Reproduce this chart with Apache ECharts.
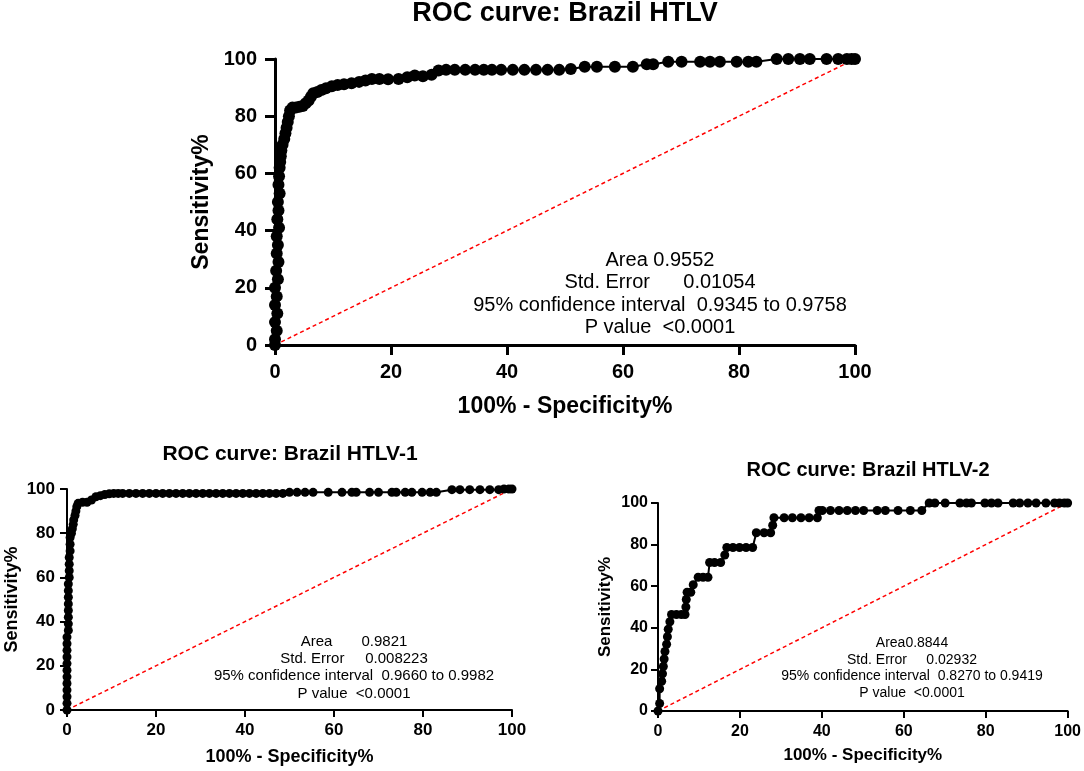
<!DOCTYPE html>
<html>
<head>
<meta charset="utf-8">
<title>ROC curves: Brazil HTLV</title>
<script src="https://cdn.jsdelivr.net/npm/echarts@6/dist/echarts.min.js"></script>
<style>
    html, body { margin: 0; padding: 0; background: #fff; }
    #main { width: 1084px; height: 771px; }
</style>
</head>
<body>
<div id="main"></div>
<script>
'use strict';

// ROC points, x = 100% - Specificity%, y = Sensitivity%
var htlvFpr = [0, 0, 0.3, 0, 0.4, 0, 0.3, 0, 0.5, 0.2, 0.6, 0.3, 0.5, 0.3, 0.7, 0.4, 0.6, 0.5, 0.8, 0.6,
    0.7, 0.8, 0.9, 1, 1.1, 1.3, 1.6, 1.8, 2, 2.2, 2.4, 2.6, 3, 3.6, 4.2, 4.8, 5.3, 5.8, 6.2, 6.6,
    7.3, 8, 8.8, 9.8, 10.8, 11.9, 13.2, 14.5, 15.6, 16.7, 18, 19.5, 21.3, 22.8, 24.1, 25.5, 27, 28.2, 29.5, 31,
    32.8, 34.5, 36, 37.4, 39, 41, 43, 45, 47, 49, 51, 53.4, 55.5, 58.6, 61.7, 64.1, 65.2, 67.8, 70.1, 73.3,
    75, 76.7, 79.6, 81.6, 83, 86.5, 88.5, 90.5, 92.2, 95.1, 97.1, 98.6, 99.4, 100];
var htlvTpr = [0, 2, 5, 8, 11, 14, 17, 20, 23, 26, 29, 32, 35, 38, 41, 44, 47, 50, 53, 56,
    59, 62, 64, 66, 68, 70, 72, 74, 76, 78, 80, 82, 83, 83, 83.3, 83.6, 84.5, 85.5, 86.8, 88,
    88.5, 89.2, 89.8, 90.5, 90.9, 91.2, 91.5, 92, 92.5, 93, 93, 92.9, 93, 93.6, 94.2, 94, 94.5, 96, 96.2, 96.2,
    96.2, 96.2, 96.2, 96.2, 96.2, 96.2, 96.2, 96.2, 96.2, 96.2, 96.5, 97.3, 97.3, 97.3, 97.3, 98.2, 98.2, 99, 99, 99,
    99, 99, 99, 99, 99, 100, 100, 100, 100, 100, 100, 100, 100, 100];

var htlv1Fpr = [0, 0, 0, 0, 0, 0, 0, 0, 0, 0, 0, 0, 0.3, 0.3, 0.3, 0.3, 0.3, 0.3, 0.3, 0.3,
    0.5, 0.5, 0.5, 0.5, 0.7, 0.7, 0.7, 1, 1.2, 1.4, 1.5, 1.8, 2, 2.2, 2.5, 3.5, 4.5, 5.5, 6.5, 7.5,
    8.5, 9.5, 10.5, 11.5, 12.5, 14, 15.5, 17, 18.5, 20, 21.5, 23, 24.5, 26, 27.5, 29, 30.5, 32, 33.5, 35,
    36.5, 38, 39.5, 41, 42.5, 44, 45.5, 47, 48.5, 50, 51.7, 53.5, 55.3, 58.7, 61.8, 64, 65, 68, 70, 73,
    74, 76, 77.5, 79.8, 81.6, 83, 86.5, 88.3, 90.5, 92.8, 95, 97, 98.2, 99.3, 100];
var htlv1Tpr = [0, 3, 6, 9, 12, 15, 18, 21, 24, 27, 30, 33, 36, 39, 42, 45, 48, 51, 54, 57,
    60, 63, 66, 69, 72, 75, 78, 80, 82, 84, 86, 88, 90, 92, 93.5, 94, 94, 95, 96.5, 97,
    97.5, 97.8, 98, 98, 98, 98, 98, 98, 98, 98, 98, 98, 98, 98, 98, 98, 98, 98, 98, 98,
    98, 98, 98, 98, 98, 98, 98, 98, 98, 98.5, 98.5, 98.5, 98.5, 98.5, 98.5, 98.5, 98.5, 98.5, 98.5, 98.5,
    98.5, 98.5, 98.5, 98.5, 98.5, 98.5, 99.7, 99.7, 99.7, 99.7, 99.7, 99.7, 100, 100, 100];

var htlv2Fpr = [0, 0.4, 0.4, 0.9, 1.1, 1.3, 1.5, 1.7, 2.1, 2.3, 2.5, 2.9, 3.3, 4.5, 5.7, 6.6, 6.8, 6.9, 7.1, 8,
    8.6, 9.8, 11, 12.2, 12.6, 13.8, 15.3, 16.3, 16.8, 18.3, 19.9, 21.5, 23.1, 24, 25.9, 27.5, 28, 28.3, 30.8, 32.8,
    34.9, 36.9, 38.9, 39.3, 40.1, 42.1, 44.2, 46.2, 48.2, 50.2, 53.5, 55.5, 58.6, 61.6, 64.4, 66.2, 67.6, 70.1, 73.7, 75.3,
    76.5, 79.8, 81.4, 83, 86.7, 88.3, 90.3, 92.3, 94.7, 96.8, 98, 99.2, 100];
var htlv2Tpr = [0, 3.6, 10.7, 14.3, 17.9, 21.4, 25, 28.6, 32.1, 35.7, 39.3, 42.9, 46.4, 46.4, 46.4, 46.4, 50, 53.6, 57.1, 57.1,
    60.7, 64.3, 64.3, 64.3, 71.4, 71.4, 71.4, 75, 78.6, 78.6, 78.6, 78.6, 78.6, 85.7, 85.7, 85.7, 89.3, 92.9, 92.9, 92.9,
    92.9, 92.9, 92.9, 96.4, 96.4, 96.4, 96.4, 96.4, 96.4, 96.4, 96.4, 96.4, 96.4, 96.4, 96.4, 100, 100, 100, 100, 100,
    100, 100, 100, 100, 100, 100, 100, 100, 100, 100, 100, 100, 100];

var chanceLine = [[0, 0], [100, 100]];
var titles = ['ROC curve: Brazil HTLV', 'ROC curve: Brazil HTLV-1', 'ROC curve: Brazil HTLV-2'];
var statsText = [
    ['Area 0.9552', 'Std. Error      0.01054', '95% confidence interval  0.9345 to 0.9758', 'P value  <0.0001'],
    ['Area       0.9821', 'Std. Error     0.008223', '95% confidence interval  0.9660 to 0.9982', 'P value  <0.0001'],
    ['Area0.8844', 'Std. Error     0.02932', '95% confidence interval  0.8270 to 0.9419', 'P value  <0.0001']
];

var FONT = 'Arial, "Liberation Sans", sans-serif';

var pairs = function (xs, ys) {
    return xs.map(function (x, i) { return [x, ys[i]]; });
};

// per-panel look
var panels = [
    { grid: { left: 275, top: 59, width: 580, height: 286 }, label: 20, name: 23, lw: 3, tick: 10, xm: 17, ym: 18, ygap: 62, xgap: 50, dot: 12, data: pairs(htlvFpr, htlvTpr) },
    { grid: { left: 67, top: 489, width: 445, height: 221 }, label: 17, name: 18, lw: 2, tick: 7, xm: 12, ym: 12, ygap: 46, xgap: 38, dot: 9, data: pairs(htlv1Fpr, htlv1Tpr) },
    { grid: { left: 658, top: 503, width: 411, height: 208 }, label: 16, name: 17, lw: 2, tick: 7, xm: 13, ym: 10, ygap: 44, xgap: 36, dot: 9, data: pairs(htlv2Fpr, htlv2Tpr) }
];

var axisCommon = function (p, isX, idx) {
    return {
        type: 'value',
        gridIndex: idx,
        min: 0,
        max: 100,
        interval: 20,
        name: isX ? '100% - Specificity%' : 'Sensitivity%',
        nameLocation: 'middle',
        nameGap: isX ? p.xgap : p.ygap,
        nameTextStyle: { fontFamily: FONT, fontWeight: 'bold', fontSize: p.name, color: '#000' },
        axisLine: { show: true, onZero: false, lineStyle: { color: '#000', width: p.lw } },
        axisTick: { show: true, length: p.tick, lineStyle: { color: '#000', width: p.lw } },
        axisLabel: { fontFamily: FONT, fontWeight: 'bold', fontSize: p.label, color: '#000', margin: isX ? p.xm : p.ym },
        splitLine: { show: false }
    };
};

var grids = [], xAxes = [], yAxes = [], series = [], titleOpts = [], graphics = [];

var titlePos = [
    { x: 565, y: 0, size: 27 },
    { x: 290, y: 444, size: 21 },
    { x: 868, y: 460, size: 20 }
];
var statsPos = [
    { x: 660, y: 249, size: 20, lh: 22.5 },
    { x: 354, y: 633, size: 15, lh: 17.3 },
    { x: 912, y: 635, size: 14, lh: 16.5 }
];

panels.forEach(function (p, i) {
    grids.push(p.grid);
    xAxes.push(axisCommon(p, true, i));
    yAxes.push(axisCommon(p, false, i));

    series.push({
        type: 'line',
        xAxisIndex: i,
        yAxisIndex: i,
        data: chanceLine,
        showSymbol: false,
        silent: true,
        z: 1,
        lineStyle: { color: '#ff0000', width: 1.5, type: [4, 3] }
    });
    series.push({
        type: 'line',
        xAxisIndex: i,
        yAxisIndex: i,
        data: p.data,
        symbol: 'circle',
        symbolSize: p.dot,
        showSymbol: true,
        clip: false,
        z: 3,
        itemStyle: { color: '#000' },
        lineStyle: { color: '#000', width: 2 }
    });

    titleOpts.push({
        text: titles[i],
        left: titlePos[i].x,
        top: titlePos[i].y,
        textAlign: 'center',
        padding: 0,
        textStyle: { fontFamily: FONT, fontWeight: 'bold', fontSize: titlePos[i].size, color: '#000' }
    });

    graphics.push({
        type: 'text',
        x: statsPos[i].x,
        y: statsPos[i].y,
        style: {
            text: statsText[i].join('\n'),
            align: 'center',
            verticalAlign: 'top',
            fontFamily: FONT,
            fontSize: statsPos[i].size,
            lineHeight: statsPos[i].lh,
            fill: '#000'
        }
    });
});

var myChart = echarts.init(document.getElementById('main'), null, { renderer: 'canvas' });
myChart.setOption({
    animation: false,
    backgroundColor: '#fff',
    title: titleOpts,
    grid: grids,
    xAxis: xAxes,
    yAxis: yAxes,
    series: series,
    graphic: graphics
});
</script>
</body>
</html>
